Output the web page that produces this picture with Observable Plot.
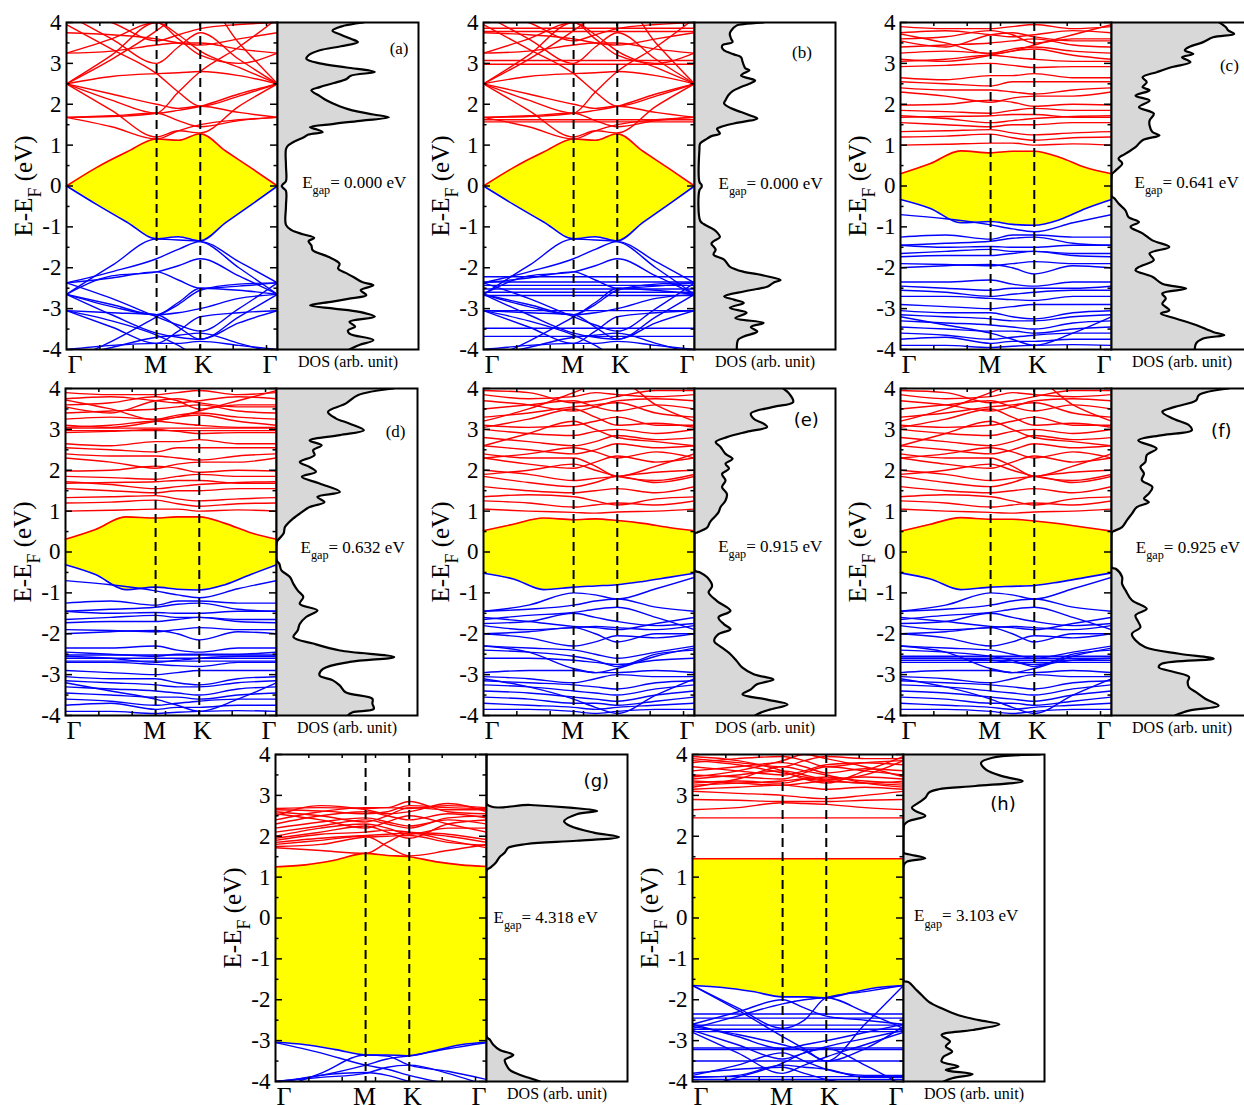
<!DOCTYPE html>
<html><head><meta charset="utf-8">
<script src="https://cdn.jsdelivr.net/npm/d3@7"></script>
<script src="https://cdn.jsdelivr.net/npm/@observablehq/plot@0.6"></script>
<style>
body{margin:0;background:#fff;}
#fig{position:relative;width:1244px;height:1105px;overflow:hidden;background:#fff;}
#fig svg{position:absolute;overflow:visible;}
</style></head><body><div id="fig"></div>
<script>
// ---------- k-path and axis ticks ----------
const kFine = [0, 0.142, 0.285, 0.427, 0.53, 0.634, 0.756, 0.878, 1];
const kCoarse = [0, 0.214, 0.427, 0.53, 0.634, 0.817, 1];
const kPoints = [0, 0.427, 0.634, 1];
const kNames = ["Γ", "M", "K", "Γ"];
const kTicks = [0.158, 0.316, 0.474, 0.632, 0.79, 0.948];
const eMajor = [-4, -3, -2, -1, 0, 1, 2, 3, 4];
const eMinor = [-3.5, -2.5, -1.5, -0.5, 0.5, 1.5, 2.5, 3.5];

// ---------- (a)/(b) bands ----------
const cbmA = [0, 0.45, 0.83, 1.15, 1.12, 1.28, 0.85, 0.43, 0];
const vbmA = [0, -0.45, -0.88, -1.29, -1.24, -1.34, -0.89, -0.45, 0];
const condA = [
 [1.68, 1.45, 1.15, 1.35, 1.5, 1.62, 1.68],
 [1.68, 1.72, 1.78, 1.6, 1.45, 1.6, 1.68],
 [2.5, 1.85, 1.2, 1.35, 1.3, 1.95, 2.5],
 [2.5, 2.1, 1.78, 1.85, 1.95, 2.25, 2.5],
 [2.5, 3.2, 4.0, 3.7, 3.3, 2.9, 2.5],
 [2.5, 3.1, 3.8, 4.2, 4.6, 3.5, 2.5],
 [3.95, 3.35, 2.75, 2.3, 1.95, 2.2, 2.5],
 [2.5, 2.68, 2.75, 2.77, 2.8, 2.7, 2.5],
 [3.25, 3.3, 3.45, 3.5, 3.5, 3.35, 3.25],
 [1.68, 1.7, 1.78, 2.3, 2.8, 3.4, 4.1],
 [4.2, 3.6, 3.0, 3.4, 3.75, 3.1, 2.5],
 [3.25, 3.6, 4.0, 3.6, 3.2, 3.0, 3.25],
 [4.3, 4.0, 3.55, 3.7, 3.85, 3.95, 4.0],
 [3.75, 3.7, 3.6, 3.5, 3.45, 3.6, 3.75],
 [2.5, 2.25, 2.0, 1.9, 1.95, 1.8, 1.68]
];
const valA = [
 [-2.65, -1.95, -1.3, -1.32, -1.36, -2.0, -2.65],
 [-2.37, -2.1, -1.78, -1.55, -1.36, -1.85, -2.37],
 [-2.65, -2.2, -2.1, -1.95, -1.78, -2.2, -2.65],
 [-2.37, -2.25, -2.1, -2.3, -2.5, -2.45, -2.37],
 [-2.65, -2.9, -3.15, -2.85, -2.5, -2.55, -2.65],
 [-2.65, -2.95, -3.15, -3.1, -3.0, -2.75, -2.65],
 [-3.05, -3.1, -3.15, -3.45, -3.75, -3.35, -3.05],
 [-2.65, -3.15, -3.6, -3.7, -3.75, -3.2, -2.65],
 [-3.05, -3.45, -3.85, -3.55, -3.2, -3.1, -3.05],
 [-4.3, -3.8, -3.2, -2.9, -2.55, -2.4, -2.37],
 [-2.37, -2.75, -3.2, -3.4, -3.55, -3.0, -2.37],
 [-3.05, -3.3, -3.65, -3.9, -4.2, -4.3, -4.4],
 [-4.2, -3.95, -3.7, -3.65, -3.6, -3.85, -4.1],
 [-4.0, -3.9, -3.85, -3.85, -3.8, -3.9, -4.0]
];
const flatCondB = [1.57, 1.62, 2.98, 3.07, 3.78, 3.86];
const flatValB = [-2.22, -2.35, -2.43, -2.52, -2.6, -2.68, -3.05, -3.48, -3.68];

// ---------- (c)/(d) bands ----------
const cbmC = [0.3, 0.55, 0.86, 0.81, 0.85, 0.85, 0.7, 0.45, 0.3];
const vbmC = [-0.33, -0.55, -0.9, -0.87, -0.94, -0.96, -0.82, -0.55, -0.33];
const cbmD = [0.31, 0.55, 0.86, 0.83, 0.86, 0.86, 0.7, 0.47, 0.31];
const vbmD = [-0.31, -0.55, -0.92, -0.86, -0.91, -0.93, -0.8, -0.55, -0.31];
const condC = [
 [1.0, 1.02, 1.05, 1.05, 1.0, 1.03, 1.0],
 [1.2, 1.22, 1.27, 1.18, 1.12, 1.18, 1.2],
 [1.33, 1.35, 1.38, 1.3, 1.25, 1.3, 1.33],
 [1.55, 1.5, 1.45, 1.5, 1.5, 1.55, 1.55],
 [1.72, 1.65, 1.55, 1.6, 1.65, 1.7, 1.72],
 [1.68, 1.7, 1.72, 1.75, 1.75, 1.68, 1.68],
 [1.85, 1.82, 1.78, 1.85, 1.9, 1.85, 1.85],
 [2.3, 2.2, 2.05, 2.15, 2.2, 2.2, 2.3],
 [1.98, 2.0, 2.1, 2.05, 1.95, 2.0, 1.98],
 [2.4, 2.35, 2.35, 2.3, 2.25, 2.35, 2.4],
 [2.55, 2.5, 2.45, 2.55, 2.55, 2.55, 2.55],
 [2.65, 2.6, 2.7, 2.7, 2.75, 2.65, 2.65],
 [2.92, 2.95, 3.0, 2.95, 2.9, 2.92, 2.92],
 [3.05, 3.1, 3.2, 3.15, 3.1, 3.05, 3.05],
 [3.1, 3.05, 3.2, 3.3, 3.35, 3.2, 3.1],
 [3.25, 3.3, 3.25, 3.35, 3.4, 3.3, 3.25],
 [3.4, 3.45, 3.5, 3.55, 3.6, 3.45, 3.4],
 [3.55, 3.4, 3.7, 3.75, 3.65, 3.55, 3.55],
 [3.75, 3.8, 3.7, 3.65, 3.7, 3.8, 3.75],
 [3.9, 3.85, 3.85, 3.9, 3.95, 3.85, 3.9],
 [3.6, 3.65, 3.8, 3.7, 3.5, 3.6, 3.6],
 [3.72, 3.5, 3.23, 3.3, 3.45, 3.7, 3.95]
];
const valC = [
 [-0.7, -0.8, -0.95, -1.05, -1.12, -0.9, -0.7],
 [-1.25, -1.2, -1.3, -1.2, -1.2, -1.25, -1.25],
 [-1.45, -1.4, -1.35, -1.28, -1.25, -1.4, -1.45],
 [-1.45, -1.5, -1.48, -1.5, -1.5, -1.45, -1.45],
 [-1.65, -1.6, -1.55, -1.6, -1.6, -1.65, -1.65],
 [-1.73, -1.7, -1.7, -1.65, -1.6, -1.7, -1.73],
 [-1.9, -1.92, -1.95, -1.9, -1.85, -1.9, -1.9],
 [-2.0, -1.95, -1.92, -2.0, -2.15, -1.95, -2.0],
 [-2.35, -2.35, -2.3, -2.4, -2.45, -2.35, -2.35],
 [-2.45, -2.5, -2.55, -2.5, -2.5, -2.5, -2.45],
 [-2.55, -2.6, -2.7, -2.65, -2.6, -2.55, -2.55],
 [-2.7, -2.7, -2.75, -2.78, -2.8, -2.7, -2.7],
 [-2.9, -2.95, -3.0, -2.95, -2.9, -2.9, -2.9],
 [-3.05, -3.1, -3.1, -3.2, -3.25, -3.1, -3.05],
 [-3.15, -3.2, -3.25, -3.3, -3.3, -3.2, -3.15],
 [-3.3, -3.35, -3.4, -3.45, -3.5, -3.35, -3.3],
 [-3.45, -3.5, -3.55, -3.55, -3.6, -3.5, -3.45],
 [-3.6, -3.65, -3.75, -3.7, -3.65, -3.6, -3.6],
 [-3.75, -3.7, -3.85, -3.8, -3.8, -3.75, -3.75],
 [-3.9, -3.9, -3.95, -3.92, -3.9, -3.88, -3.9],
 [-3.2, -3.4, -3.6, -3.75, -3.9, -3.6, -3.2]
];
const flatCondD = [2.97, 3.03];
const flatValD = [-2.52, -2.6, -2.67];

// ---------- (e)/(f) bands ----------
const cbmE = [0.52, 0.68, 0.83, 0.79, 0.81, 0.77, 0.7, 0.6, 0.52];
const vbmE = [-0.52, -0.66, -0.92, -0.86, -0.83, -0.8, -0.72, -0.62, -0.52];
const cbmF = [0.51, 0.68, 0.84, 0.8, 0.8, 0.76, 0.69, 0.6, 0.51];
const vbmF = [-0.51, -0.66, -0.92, -0.86, -0.84, -0.82, -0.73, -0.62, -0.51];
const condE = [
 [1.05, 1.0, 0.97, 0.95, 0.98, 1.0, 1.05],
 [1.25, 1.2, 1.1, 1.15, 1.2, 1.15, 1.25],
 [1.35, 1.4, 1.35, 1.25, 1.15, 1.3, 1.35],
 [1.6, 1.5, 1.45, 1.5, 1.55, 1.45, 1.6],
 [1.85, 1.7, 1.6, 1.7, 1.85, 1.7, 1.85],
 [2.0, 1.9, 1.75, 1.8, 1.85, 1.95, 2.0],
 [1.9, 2.0, 2.15, 2.0, 1.85, 1.75, 1.9],
 [2.3, 2.15, 2.05, 2.2, 2.35, 2.2, 2.3],
 [2.4, 2.3, 2.3, 2.1, 1.85, 2.1, 2.4],
 [2.3, 2.4, 2.55, 2.45, 2.3, 2.45, 2.3],
 [2.6, 2.5, 2.4, 2.5, 2.65, 2.55, 2.6],
 [2.8, 2.7, 2.6, 2.7, 2.85, 2.75, 2.8],
 [3.0, 2.9, 2.85, 2.95, 3.0, 2.9, 3.0],
 [3.1, 3.05, 3.1, 3.2, 3.3, 3.1, 3.1],
 [3.05, 3.25, 3.5, 3.3, 3.1, 3.15, 3.05],
 [3.3, 3.4, 3.55, 3.6, 3.65, 3.4, 3.3],
 [3.5, 3.6, 3.7, 3.55, 3.45, 3.6, 3.5],
 [3.7, 3.6, 3.45, 3.55, 3.7, 3.75, 3.7],
 [3.85, 3.75, 3.8, 3.9, 3.85, 3.8, 3.85],
 [3.95, 3.9, 3.65, 3.7, 3.8, 3.95, 3.95],
 [3.2, 3.5, 3.9, 4.1, 4.2, 3.6, 3.2],
 [2.6, 2.9, 3.2, 3.0, 2.8, 2.7, 2.6]
];
const valE = [
 [-1.45, -1.3, -1.0, -1.05, -1.15, -0.9, -0.62],
 [-1.45, -1.4, -1.3, -1.2, -1.15, -1.35, -1.45],
 [-1.65, -1.55, -1.48, -1.4, -1.35, -1.6, -1.9],
 [-1.75, -1.7, -1.5, -1.6, -1.7, -1.8, -1.75],
 [-1.8, -1.9, -1.85, -1.82, -1.85, -1.9, -1.8],
 [-2.0, -1.95, -1.85, -2.0, -2.2, -2.0, -2.0],
 [-2.0, -2.1, -2.3, -2.2, -2.05, -2.1, -2.0],
 [-2.3, -2.35, -2.4, -2.5, -2.6, -2.45, -2.3],
 [-2.4, -2.45, -2.55, -2.65, -2.8, -2.5, -2.4],
 [-2.6, -2.6, -2.65, -2.7, -2.75, -2.65, -2.6],
 [-2.95, -2.9, -2.9, -2.95, -2.95, -2.9, -2.95],
 [-3.05, -3.1, -3.2, -3.1, -3.0, -3.05, -3.05],
 [-3.15, -3.2, -3.25, -3.3, -3.35, -3.2, -3.15],
 [-3.25, -3.3, -3.4, -3.45, -3.5, -3.35, -3.25],
 [-3.4, -3.45, -3.55, -3.6, -3.65, -3.5, -3.4],
 [-3.55, -3.6, -3.7, -3.7, -3.75, -3.65, -3.55],
 [-3.7, -3.75, -3.8, -3.85, -3.8, -3.75, -3.7],
 [-3.85, -3.85, -3.9, -3.95, -3.9, -3.85, -3.85],
 [-3.1, -3.3, -3.6, -3.8, -3.95, -3.5, -3.1],
 [-2.3, -2.45, -2.85, -2.95, -2.85, -2.55, -2.35],
 [-1.6, -1.7, -1.82, -1.85, -1.9, -1.75, -1.6]
];
const flatValF = [-2.55, -2.6, -2.65, -2.7];

// ---------- (g) bands ----------
const cbmG = [1.25, 1.3, 1.42, 1.58, 1.53, 1.5, 1.38, 1.3, 1.26];
const vbmG = [-3.04, -3.1, -3.22, -3.35, -3.35, -3.37, -3.24, -3.1, -3.04];
const condG = [
 [1.72, 1.65, 1.58, 1.85, 2.08, 1.9, 1.72],
 [1.8, 1.9, 2.0, 1.75, 1.52, 1.65, 1.8],
 [1.85, 1.95, 2.02, 2.05, 2.08, 2.0, 1.85],
 [1.9, 2.05, 2.1, 2.15, 2.1, 2.05, 1.92],
 [2.0, 2.2, 2.3, 2.2, 2.05, 2.2, 2.2],
 [2.2, 2.35, 2.45, 2.35, 2.25, 2.4, 2.3],
 [2.3, 2.5, 2.6, 2.5, 2.4, 2.55, 2.45],
 [2.4, 2.6, 2.7, 2.7, 2.85, 2.6, 2.55],
 [2.5, 2.75, 2.65, 2.55, 2.6, 2.8, 2.6],
 [2.6, 2.5, 2.35, 2.5, 2.7, 2.65, 2.65],
 [2.65, 2.62, 2.55, 2.6, 2.75, 2.7, 2.68],
 [2.55, 2.4, 2.2, 2.35, 2.5, 2.3, 2.1],
 [2.1, 2.25, 2.4, 2.3, 2.2, 2.45, 2.5],
 [2.68, 2.7, 2.68, 2.7, 2.68, 2.75, 2.7],
 [1.95, 2.1, 2.25, 2.1, 1.95, 2.3, 2.4],
 [1.75, 1.8, 1.98, 2.0, 2.02, 1.85, 1.78]
];
const valG = [
 [-3.05, -3.3, -3.6, -3.7, -3.85, -4.05, -4.2],
 [-4.0, -3.85, -3.6, -3.45, -3.37, -3.2, -3.05],
 [-4.0, -3.9, -3.8, -3.65, -3.6, -3.8, -4.1],
 [-4.05, -3.85, -3.78, -3.85, -4.0, -4.2, -4.3],
 [-4.2, -3.8, -3.35, -3.38, -3.6, -3.75, -3.95]
];

// ---------- (h) bands ----------
const cbmH = [1.45, 1.45, 1.45, 1.45, 1.45, 1.45, 1.45, 1.45, 1.45];
const vbmH = [-1.65, -1.7, -1.8, -1.93, -1.93, -1.95, -1.82, -1.7, -1.65];
const condH = [
 [2.65, 2.7, 2.82, 2.8, 2.78, 2.7, 2.65],
 [2.9, 2.88, 2.85, 2.85, 2.85, 2.88, 2.9],
 [3.1, 3.05, 3.0, 2.95, 2.92, 3.0, 3.1],
 [3.15, 3.2, 3.25, 3.2, 3.15, 3.2, 3.15],
 [3.3, 3.35, 3.3, 3.4, 3.45, 3.35, 3.3],
 [3.4, 3.5, 3.6, 3.5, 3.4, 3.45, 3.4],
 [3.5, 3.45, 3.4, 3.55, 3.7, 3.6, 3.5],
 [3.6, 3.7, 3.8, 3.7, 3.55, 3.65, 3.6],
 [3.7, 3.6, 3.5, 3.6, 3.75, 3.8, 3.75],
 [3.8, 3.9, 3.95, 3.85, 3.7, 3.8, 3.85],
 [3.9, 3.8, 3.7, 3.85, 3.95, 3.9, 3.9],
 [3.2, 3.4, 3.7, 3.6, 3.5, 3.3, 3.2],
 [3.95, 3.85, 3.6, 3.4, 3.3, 3.6, 3.95],
 [3.35, 3.3, 3.25, 3.3, 3.35, 3.3, 3.35],
 [3.25, 3.3, 3.35, 3.4, 3.35, 3.3, 3.25],
 [3.45, 3.6, 3.85, 4.0, 3.9, 3.7, 3.45],
 [3.85, 3.75, 3.55, 3.45, 3.38, 3.5, 3.85]
];
const valH = [
 [-1.65, -2.2, -2.7, -2.5, -1.95, -1.8, -1.65],
 [-2.6, -2.3, -2.0, -2.2, -2.4, -2.5, -2.6],
 [-2.7, -2.4, -2.1, -2.0, -1.95, -2.3, -2.7],
 [-2.6, -2.9, -3.2, -3.1, -3.0, -2.8, -2.6],
 [-2.75, -3.1, -3.45, -3.3, -3.15, -2.95, -2.75],
 [-2.8, -3.3, -3.8, -3.6, -3.4, -3.1, -2.8],
 [-3.85, -3.6, -3.3, -3.5, -3.7, -3.85, -3.85],
 [-3.9, -3.85, -3.6, -3.65, -3.7, -3.9, -3.9],
 [-3.8, -3.7, -3.65, -3.8, -3.95, -4.1, -4.2],
 [-4.2, -3.9, -3.55, -3.3, -3.2, -3.6, -4.1],
 [-2.65, -2.85, -3.1, -3.25, -3.5, -3.2, -2.65],
 [-1.65, -2.25, -2.9, -3.2, -3.5, -2.6, -1.65]
];
const flatCondH = [2.45];
const flatValH = [-2.35, -2.45, -2.62, -2.72, -2.78, -3.18, -3.22, -3.5, -3.88, -3.95];

// ---------- DOS curves: [energy, DOS fraction of panel width] ----------
const dosA = [[4.0,0.61],[3.9,0.45],[3.8,0.39],[3.7,0.45],[3.6,0.52],[3.52,0.57],[3.42,0.45],[3.32,0.3],[3.2,0.22],[3.11,0.205],[3.0,0.3],[2.9,0.49],[2.79,0.69],[2.7,0.52],[2.62,0.49],[2.52,0.4],[2.42,0.3],[2.34,0.24],[2.2,0.3],[2.09,0.35],[1.95,0.44],[1.85,0.53],[1.75,0.68],[1.68,0.79],[1.6,0.6],[1.52,0.4],[1.44,0.23],[1.38,0.28],[1.32,0.32],[1.26,0.22],[1.2,0.19],[1.07,0.11],[0.99,0.075],[0.9,0.06],[0.5,0.06],[0.12,0.06],[0.05,0.04],[0,0.03],[-0.05,0.04],[-0.12,0.06],[-0.5,0.06],[-0.95,0.06],[-1.08,0.1],[-1.18,0.18],[-1.27,0.26],[-1.35,0.22],[-1.45,0.24],[-1.57,0.25],[-1.73,0.36],[-1.9,0.44],[-2.02,0.43],[-2.12,0.48],[-2.22,0.535],[-2.35,0.6],[-2.43,0.68],[-2.55,0.59],[-2.67,0.63],[-2.76,0.5],[-2.83,0.39],[-2.92,0.23],[-3.0,0.4],[-3.08,0.58],[-3.2,0.69],[-3.32,0.51],[-3.44,0.55],[-3.53,0.5],[-3.61,0.51],[-3.77,0.68],[-3.89,0.58],[-4.0,0.51]];
const dosB = [[4.0,0.49],[3.96,0.35],[3.93,0.3],[3.8,0.26],[3.72,0.25],[3.6,0.26],[3.52,0.27],[3.45,0.2],[3.38,0.195],[3.32,0.21],[3.22,0.28],[3.15,0.33],[3.05,0.34],[2.95,0.35],[2.88,0.36],[2.83,0.39],[2.76,0.35],[2.7,0.33],[2.64,0.38],[2.58,0.43],[2.5,0.39],[2.42,0.33],[2.32,0.27],[2.22,0.24],[2.1,0.22],[2.02,0.21],[1.9,0.26],[1.81,0.33],[1.72,0.4],[1.65,0.445],[1.58,0.36],[1.53,0.28],[1.46,0.2],[1.4,0.16],[1.34,0.17],[1.28,0.18],[1.22,0.12],[1.16,0.09],[1.04,0.04],[0.9,0.035],[0.1,0.035],[0.03,0.05],[-0.03,0.05],[-0.1,0.035],[-0.85,0.04],[-0.93,0.065],[-1.03,0.12],[-1.1,0.15],[-1.25,0.18],[-1.34,0.14],[-1.41,0.12],[-1.5,0.14],[-1.56,0.15],[-1.68,0.135],[-1.8,0.21],[-1.97,0.25],[-2.1,0.35],[-2.16,0.45],[-2.22,0.53],[-2.3,0.61],[-2.35,0.57],[-2.39,0.55],[-2.46,0.52],[-2.52,0.44],[-2.58,0.35],[-2.7,0.21],[-2.78,0.28],[-2.86,0.35],[-2.98,0.25],[-3.1,0.37],[-3.23,0.29],[-3.35,0.49],[-3.45,0.4],[-3.56,0.445],[-3.68,0.35],[-3.76,0.31],[-4.0,0.3]];
const dosC = [[4.0,0.765],[3.89,0.81],[3.8,0.83],[3.72,0.87],[3.64,0.72],[3.52,0.65],[3.4,0.55],[3.32,0.52],[3.23,0.58],[3.15,0.5],[3.03,0.56],[2.91,0.43],[2.79,0.325],[2.66,0.22],[2.54,0.25],[2.42,0.22],[2.34,0.27],[2.21,0.17],[2.09,0.27],[1.93,0.195],[1.77,0.3],[1.6,0.27],[1.48,0.27],[1.32,0.29],[1.24,0.34],[1.12,0.22],[0.95,0.17],[0.79,0.1],[0.67,0.05],[0.55,0.076],[0.38,0.03],[0.3,0.005],[0.26,0],[-0.25,0],[-0.3,0.02],[-0.43,0.05],[-0.6,0.1],[-0.76,0.12],[-0.88,0.195],[-1.0,0.135],[-1.16,0.22],[-1.33,0.29],[-1.49,0.41],[-1.65,0.27],[-1.81,0.3],[-1.98,0.195],[-2.06,0.17],[-2.22,0.29],[-2.39,0.36],[-2.51,0.53],[-2.63,0.36],[-2.75,0.385],[-2.88,0.36],[-3.04,0.41],[-3.12,0.35],[-3.24,0.455],[-3.4,0.6],[-3.57,0.72],[-3.65,0.8],[-3.73,0.65],[-3.85,0.6],[-4.0,0.59]];
const dosD = [[4.0,0.83],[3.84,0.58],[3.63,0.49],[3.43,0.365],[3.27,0.42],[3.14,0.52],[2.98,0.62],[2.86,0.45],[2.73,0.235],[2.61,0.32],[2.49,0.26],[2.37,0.27],[2.2,0.165],[2.08,0.235],[1.96,0.28],[1.84,0.18],[1.67,0.31],[1.47,0.45],[1.35,0.29],[1.22,0.34],[1.1,0.235],[0.94,0.165],[0.78,0.105],[0.61,0.06],[0.45,0.05],[0.29,0.01],[0.22,0],[-0.2,0],[-0.29,0.02],[-0.45,0.035],[-0.61,0.095],[-0.78,0.12],[-0.94,0.15],[-1.1,0.19],[-1.27,0.165],[-1.43,0.29],[-1.59,0.21],[-1.76,0.165],[-1.92,0.15],[-2.08,0.12],[-2.24,0.26],[-2.41,0.45],[-2.57,0.835],[-2.69,0.52],[-2.86,0.33],[-3.02,0.305],[-3.14,0.4],[-3.27,0.45],[-3.43,0.49],[-3.59,0.68],[-3.71,0.68],[-3.84,0.69],[-3.92,0.54],[-4.0,0.505]];
const dosE = [[4.0,0.63],[3.88,0.67],[3.67,0.7],[3.55,0.56],[3.39,0.4],[3.26,0.42],[3.14,0.49],[3.06,0.515],[2.94,0.37],[2.81,0.23],[2.69,0.15],[2.57,0.185],[2.4,0.22],[2.28,0.27],[2.16,0.22],[2.04,0.245],[1.91,0.195],[1.75,0.22],[1.59,0.195],[1.42,0.23],[1.26,0.22],[1.1,0.185],[0.97,0.17],[0.85,0.14],[0.73,0.11],[0.6,0.09],[0.48,0.02],[0.45,0],[-0.45,0],[-0.5,0.04],[-0.62,0.09],[-0.83,0.125],[-0.99,0.1],[-1.2,0.16],[-1.44,0.255],[-1.6,0.17],[-1.77,0.21],[-1.89,0.255],[-2.01,0.17],[-2.18,0.14],[-2.34,0.195],[-2.5,0.255],[-2.67,0.3],[-2.83,0.34],[-2.99,0.42],[-3.12,0.56],[-3.24,0.44],[-3.36,0.4],[-3.48,0.34],[-3.61,0.515],[-3.73,0.66],[-3.85,0.54],[-3.93,0.47],[-4.0,0.43]];
const dosF = [[4.0,0.83],[3.84,0.62],[3.71,0.6],[3.55,0.45],[3.43,0.36],[3.27,0.43],[3.1,0.55],[2.98,0.57],[2.86,0.36],[2.73,0.19],[2.53,0.32],[2.37,0.25],[2.2,0.24],[2.08,0.205],[1.92,0.23],[1.76,0.215],[1.59,0.29],[1.43,0.265],[1.31,0.23],[1.22,0.265],[1.1,0.18],[0.94,0.145],[0.78,0.11],[0.61,0.075],[0.49,0.005],[0.46,0],[-0.38,0],[-0.41,0.03],[-0.61,0.075],[-0.78,0.075],[-0.94,0.1],[-1.18,0.145],[-1.39,0.25],[-1.55,0.17],[-1.71,0.19],[-1.84,0.205],[-2.0,0.145],[-2.16,0.17],[-2.33,0.24],[-2.49,0.48],[-2.61,0.725],[-2.73,0.36],[-2.82,0.335],[-2.94,0.45],[-3.06,0.55],[-3.18,0.54],[-3.31,0.55],[-3.43,0.6],[-3.59,0.665],[-3.76,0.76],[-3.88,0.55],[-4.0,0.45]];
const dosG = [[4.0,0],[2.79,0],[2.765,0.31],[2.7,0.59],[2.62,0.785],[2.54,0.64],[2.37,0.55],[2.25,0.595],[2.09,0.76],[1.98,0.94],[1.89,0.64],[1.81,0.285],[1.72,0.155],[1.6,0.13],[1.5,0.095],[1.36,0.067],[1.24,0.03],[1.16,0],[-2.9,0],[-2.98,0.024],[-3.1,0.048],[-3.23,0.095],[-3.35,0.19],[-3.47,0.13],[-3.59,0.14],[-3.72,0.167],[-3.84,0.24],[-3.92,0.31],[-4.0,0.38]];
const dosH = [[4.0,0.97],[3.92,0.63],[3.8,0.55],[3.63,0.585],[3.47,0.7],[3.35,0.845],[3.23,0.51],[3.15,0.25],[3.07,0.18],[2.94,0.155],[2.82,0.107],[2.7,0.06],[2.62,0.083],[2.5,0.155],[2.37,0.036],[2.29,0.007],[2.21,0],[1.6,0],[1.56,0.036],[1.46,0.155],[1.38,0.024],[1.28,0],[-1.53,0],[-1.57,0.036],[-1.73,0.083],[-1.89,0.13],[-2.05,0.18],[-2.21,0.27],[-2.38,0.39],[-2.5,0.535],[-2.6,0.68],[-2.74,0.49],[-2.86,0.27],[-3.02,0.33],[-3.14,0.3],[-3.27,0.345],[-3.39,0.285],[-3.51,0.27],[-3.63,0.39],[-3.72,0.3],[-3.82,0.49],[-3.92,0.345],[-4.0,0.285]];

const gapValues = ["0.000", "0.000", "0.641", "0.632", "0.915", "0.925", "4.318", "3.103"];
const tags = ["(a)", "(b)", "(c)", "(d)", "(e)", "(f)", "(g)", "(h)"];

// ---------- layout / style ----------
const SERIF = '"Liberation Serif", "Times New Roman", serif';
const SANS = '"DejaVu Sans", Verdana, sans-serif';
const W = 211, H = 327, WD = 141;
const mL = 72, mR = 2, mT = 4, mB = 36;
const RED = "#ff0000", BLUE = "#0000ff";

const panels = [
 {x:66, y:22, cond:condA, val:valA, cbm:cbmA, vbm:vbmA, fc:[], fv:[], dos:dosA, tf:SERIF, tdx:-10, tdy:26, gdx:24.7, gdy:-3.5},
 {x:483, y:22, cond:condA, val:valA, cbm:cbmA, vbm:vbmA, fc:flatCondB, fv:flatValB, dos:dosB, tf:SERIF, tdx:-23.6, tdy:29.7, gdx:24, gdy:-2.8},
 {x:900, y:22, cond:condC, val:valC, cbm:cbmC, vbm:vbmC, fc:[], fv:[], dos:dosC, tf:SERIF, tdx:-13.7, tdy:43, gdx:23, gdy:-3.8},
 {x:65, y:388, cond:condC, val:valC, cbm:cbmD, vbm:vbmD, fc:flatCondD, fv:flatValD, dos:dosD, tf:SERIF, tdx:-12, tdy:43, gdx:24, gdy:-4.8},
 {x:483, y:388, cond:condE, val:valE, cbm:cbmE, vbm:vbmE, fc:[], fv:[], dos:dosE, tf:SANS, tdx:-16.7, tdy:32, gdx:23.7, gdy:-5.8},
 {x:900, y:388, cond:condE, val:valE, cbm:cbmF, vbm:vbmF, fc:[], fv:flatValF, dos:dosF, tf:SANS, tdx:-21, tdy:43, gdx:24.3, gdy:-4.8},
 {x:274.5, y:753.5, cond:condG, val:valG, cbm:cbmG, vbm:vbmG, fc:[], fv:[], dos:dosG, tf:SANS, tdx:-18.4, tdy:26.7, gdx:7, gdy:-0.5},
 {x:692, y:753.5, cond:condH, val:valH, cbm:cbmH, vbm:vbmH, fc:flatCondH, fv:flatValH, dos:dosH, tf:SANS, tdx:-28.7, tdy:50, gdx:10.6, gdy:-2}
];

function rows(bands, grid) {
  const out = [];
  bands.forEach((b, j) => b.forEach((e, i) => out.push({k: grid[i], e, b: j})));
  return out;
}

function subscripts(svg) {
  const ns = "http://www.w3.org/2000/svg";
  svg.querySelectorAll("text").forEach(t => {
    const m = t.textContent.match(/^(.*?)_\{(.+?)\}(.*)$/);
    if (!m) return;
    const fs = parseFloat(getComputedStyle(t).fontSize) || 16;
    t.textContent = "";
    const a = document.createElementNS(ns, "tspan"); a.textContent = m[1];
    const b = document.createElementNS(ns, "tspan"); b.textContent = m[2];
    b.setAttribute("font-size", (fs * 0.72).toFixed(1) + "px");
    b.setAttribute("dy", (fs * 0.38).toFixed(1));
    const c = document.createElementNS(ns, "tspan"); c.textContent = m[3];
    c.setAttribute("dy", (-fs * 0.38).toFixed(1));
    t.append(a, b, c);
  });
}

const fig = document.getElementById("fig");
const kRows = kPoints.map((k, i) => ({k, t: kNames[i]}));
const lineOpts = {x: "k", y: "e", z: "b", strokeWidth: 1.4, curve: "monotone-x", clip: true};

panels.forEach((p, idx) => {
  const edges = kFine.map((k, i) => ({k, vb: p.vbm[i], cb: p.cbm[i]}));
  const band = Plot.plot({
    width: mL + W + mR, height: mT + H + mB,
    marginLeft: mL, marginRight: mR, marginTop: mT, marginBottom: mB,
    x: {domain: [0, 1], axis: null},
    y: {domain: [-4, 4], axis: null},
    style: {fontFamily: SERIF, background: "transparent", overflow: "visible"},
    marks: [
      Plot.areaY(edges, {x: "k", y1: "vb", y2: "cb", fill: "#ffff00", curve: "monotone-x"}),
      Plot.line(rows(p.val, kCoarse), {...lineOpts, stroke: BLUE}),
      Plot.ruleY(p.fv, {stroke: BLUE, strokeWidth: 1.4}),
      Plot.line(edges, {x: "k", y: "vb", stroke: BLUE, strokeWidth: 1.6, curve: "monotone-x"}),
      Plot.line(rows(p.cond, kCoarse), {...lineOpts, stroke: RED}),
      Plot.ruleY(p.fc, {stroke: RED, strokeWidth: 1.4}),
      Plot.line(edges, {x: "k", y: "cb", stroke: RED, strokeWidth: 1.6, curve: "monotone-x"}),
      Plot.ruleX([kPoints[1], kPoints[2]], {stroke: "black", strokeWidth: 2, strokeDasharray: "9,5"}),
      Plot.tickY(eMajor, {y: d => d, insetRight: W - 7, stroke: "black", strokeWidth: 1.5}),
      Plot.tickY(eMajor, {y: d => d, insetLeft: W - 7, stroke: "black", strokeWidth: 1.5}),
      Plot.tickY(eMinor, {y: d => d, insetRight: W - 3.5, stroke: "black", strokeWidth: 1.5}),
      Plot.tickY(eMinor, {y: d => d, insetLeft: W - 3.5, stroke: "black", strokeWidth: 1.5}),
      Plot.tickX(kTicks, {x: d => d, insetBottom: H - 4, stroke: "black", strokeWidth: 1.5}),
      Plot.tickX(kTicks, {x: d => d, insetTop: H - 4, stroke: "black", strokeWidth: 1.5}),
      Plot.frame({stroke: "black", strokeWidth: 2}),
      Plot.text(eMajor, {y: d => d, text: d => String(d), frameAnchor: "left", textAnchor: "end", lineAnchor: "middle", dx: -5, fontSize: 23, fontFamily: SERIF, fill: "black"}),
      Plot.text(["E-E_{F} (eV)"], {text: d => d, frameAnchor: "left", textAnchor: "middle", lineAnchor: "middle", dx: -43, rotate: -90, fontSize: 25, fontFamily: SERIF, fill: "black"}),
      Plot.text([kRows[0]], {x: "k", text: "t", frameAnchor: "bottom", lineAnchor: "top", textAnchor: "start", dx: 1, dy: 5, fontSize: 26, fontFamily: SERIF, fill: "black"}),
      Plot.text(kRows.slice(1, 2), {x: "k", text: "t", frameAnchor: "bottom", lineAnchor: "top", textAnchor: "middle", dx: -1, dy: 5, fontSize: 26, fontFamily: SERIF, fill: "black"}),
      Plot.text(kRows.slice(2, 3), {x: "k", text: "t", frameAnchor: "bottom", lineAnchor: "top", textAnchor: "middle", dx: 3, dy: 5, fontSize: 26, fontFamily: SERIF, fill: "black"}),
      Plot.text(kRows.slice(3), {x: "k", text: "t", frameAnchor: "bottom", lineAnchor: "top", textAnchor: "end", dx: 0, dy: 5, fontSize: 26, fontFamily: SERIF, fill: "black"})
    ]
  });
  band.style.left = (p.x - mL) + "px";
  band.style.top = (p.y - mT) + "px";

  const drows = p.dos.map(([e, d]) => ({e, d}));
  const dos = Plot.plot({
    width: WD + mR, height: mT + H + mB,
    marginLeft: 0, marginRight: mR, marginTop: mT, marginBottom: mB,
    x: {domain: [0, 1], axis: null},
    y: {domain: [-4, 4], axis: null},
    style: {fontFamily: SERIF, background: "transparent", overflow: "visible"},
    marks: [
      Plot.areaX(drows, {y: "e", x1: 0, x2: "d", fill: "#d8d8d8", curve: "catmull-rom", clip: true}),
      Plot.lineX(drows, {y: "e", x: "d", stroke: "black", strokeWidth: 2.2, curve: "catmull-rom", clip: true}),
      Plot.frame({stroke: "black", strokeWidth: 2}),
      Plot.text([tags[idx]], {text: d => d, frameAnchor: "top-right", textAnchor: "end", lineAnchor: "middle", dx: p.tdx, dy: p.tdy, fontSize: p.tf === SANS ? 18 : 17, fontFamily: p.tf, fill: "black"}),
      Plot.text([`E_{gap}= ${gapValues[idx]} eV`], {text: d => d, frameAnchor: "left", textAnchor: "start", lineAnchor: "middle", dx: p.gdx, dy: p.gdy, fontSize: 17, fontFamily: SERIF, fill: "black"}),
      Plot.text(["DOS (arb. unit)"], {text: d => d, frameAnchor: "bottom", textAnchor: "middle", lineAnchor: "top", dy: 6, fontSize: 16, fontFamily: SERIF, fill: "black"})
    ]
  });
  dos.style.left = (p.x + W) + "px";
  dos.style.top = (p.y - mT) + "px";

  fig.append(band, dos);
  subscripts(band);
  subscripts(dos);
});
</script>
</body></html>
